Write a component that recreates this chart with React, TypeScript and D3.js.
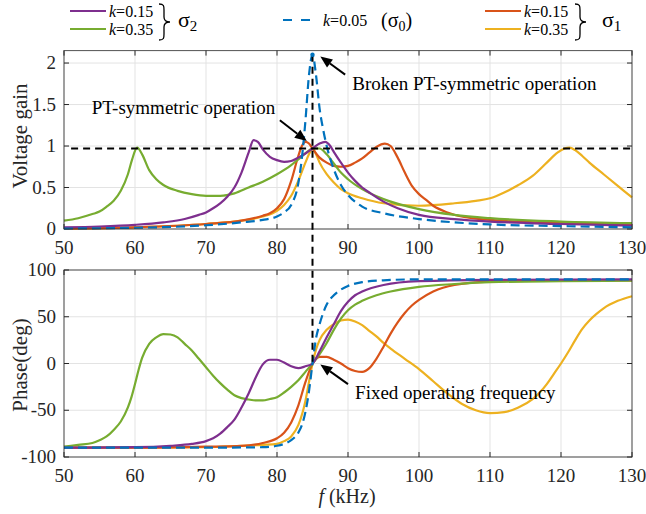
import * as d3 from 'd3';

// frequency axis and tick labels
const freqTicks = [50, 60, 70, 80, 90, 100, 110, 120, 130];
const gainTicks = [0, 0.5, 1, 1.5, 2];
const phaseTicks = [-100, -50, 0, 50, 100];

// voltage gain: [f (kHz), gain]
const gainS2k15: [number, number][] = [
  [50, 0.02], [55, 0.03], [60, 0.05], [64, 0.08], [67, 0.12], [69, 0.17], [70, 0.2], [71, 0.25],
  [72, 0.31], [73, 0.39], [74, 0.5], [75, 0.68], [76, 0.92], [76.7, 1.07], [77.3, 1.05], [78, 0.96],
  [79, 0.87], [80, 0.83], [81, 0.81], [82, 0.82], [83, 0.86], [84, 0.91], [85, 0.97], [86, 1.03],
  [86.8, 1.05], [87.5, 1.0], [88, 0.93], [89, 0.8], [90, 0.68], [91, 0.58], [92, 0.5], [93, 0.44],
  [95, 0.33], [97, 0.25], [100, 0.17], [105, 0.12], [110, 0.09], [120, 0.06], [130, 0.04],
];
const gainS2k35: [number, number][] = [
  [50, 0.1], [52, 0.13], [54, 0.18], [55, 0.21], [56, 0.27], [57, 0.34], [58, 0.46], [59, 0.66],
  [59.6, 0.84], [60.3, 0.98], [61, 0.9], [62, 0.71], [63, 0.6], [64, 0.53], [66, 0.46], [68, 0.42],
  [70, 0.4], [72, 0.4], [74, 0.43], [76, 0.5], [78, 0.57], [80, 0.66], [82, 0.77], [83, 0.84],
  [84, 0.91], [85, 0.97], [86, 0.97], [87, 0.9], [88, 0.79], [89, 0.68], [90, 0.6], [92, 0.48],
  [95, 0.36], [100, 0.24], [105, 0.17], [110, 0.13], [120, 0.09], [130, 0.07],
];
const gainS0k05: [number, number][] = [
  [50, 0.005], [60, 0.015], [65, 0.025], [70, 0.045], [75, 0.08], [78, 0.11], [80, 0.15], [81, 0.2],
  [82, 0.29], [83, 0.55], [83.5, 0.85], [84, 1.3], [84.5, 1.85], [85, 2.1], [85.5, 1.85], [86, 1.45],
  [86.5, 1.2], [87, 1.0], [88, 0.72], [89, 0.53], [90, 0.41], [92, 0.27], [95, 0.19], [100, 0.12],
  [105, 0.08], [110, 0.055], [120, 0.035], [130, 0.02],
];
const gainS1k15: [number, number][] = [
  [50, 0.005], [60, 0.02], [70, 0.06], [75, 0.1], [78, 0.16], [79, 0.19], [80, 0.25], [81, 0.36],
  [82, 0.58], [83, 0.88], [83.5, 1.0], [84, 1.05], [84.5, 1.03], [85, 0.97], [86, 0.86], [87, 0.8],
  [88, 0.76], [89, 0.75], [90, 0.76], [91, 0.8], [92, 0.85], [93, 0.92], [94, 0.99], [95.2, 1.03],
  [96, 1.0], [97, 0.86], [98, 0.68], [99, 0.52], [100, 0.42], [101, 0.35], [102, 0.28], [104, 0.2],
  [106, 0.15], [110, 0.11], [120, 0.07], [130, 0.05],
];
const gainS1k35: [number, number][] = [
  [50, 0.005], [60, 0.02], [70, 0.06], [75, 0.1], [78, 0.15], [80, 0.22], [81, 0.29], [82, 0.4],
  [83, 0.58], [84, 0.8], [84.5, 0.9], [85, 0.97], [85.5, 0.9], [86, 0.8], [87, 0.66], [88, 0.56],
  [89, 0.48], [90, 0.43], [92, 0.37], [95, 0.31], [100, 0.28], [105, 0.31], [108, 0.34], [110, 0.37],
  [112, 0.44], [114, 0.53], [116, 0.64], [118, 0.8], [119.5, 0.92], [120.5, 0.97], [121.2, 0.98],
  [122, 0.95], [123, 0.88], [124, 0.8], [126, 0.66], [128, 0.52], [130, 0.38],
];

// phase (deg): [f (kHz), phase]
const phaseS2k15: [number, number][] = [
  [50, -90], [60, -89.5], [65, -88], [68, -86], [70, -83], [71, -80], [72, -75], [73, -68],
  [74, -60], [75, -47], [76, -32], [77, -15], [78, -1], [79, 4], [80, 4], [81, 1], [82, -3],
  [83, -5], [84, -3], [85, 0], [86, 13], [87, 28], [88, 42], [89, 56], [90, 66], [91, 73],
  [92, 77], [95, 84], [100, 88], [110, 89.5], [130, 90],
];
const phaseS2k35: [number, number][] = [
  [50, -89], [52, -87], [54, -85], [55, -82], [56, -78], [57, -71], [58, -62], [59, -47],
  [59.5, -36], [60, -22], [60.5, -7], [61, 6], [62, 21], [63, 28], [64, 31.5], [65, 31], [66, 28],
  [67, 21], [68, 14], [69, 5], [70, -4], [71, -13], [72, -21], [73, -28], [74, -34], [75, -37],
  [76, -38.5], [77, -39.5], [78, -39.5], [79, -38], [80, -36], [81, -31], [82, -25], [83, -18],
  [84, -9], [85, 0], [86, 10], [87, 22], [88, 36], [89, 48], [90, 57], [91, 63], [92, 67],
  [94, 73], [96, 77], [100, 82], [105, 85], [110, 87], [120, 88], [130, 88.5],
];
const phaseS0k05: [number, number][] = [
  [50, -90], [70, -90], [78, -89.5], [80, -88], [81, -86], [82, -82], [83, -74], [83.5, -66],
  [84, -52], [84.5, -30], [85, 0], [85.5, 27], [86, 42], [86.5, 54], [87, 63], [88, 73], [89, 79],
  [90, 83], [92, 87], [95, 89], [100, 90], [130, 90],
];
const phaseS1k15: [number, number][] = [
  [50, -90], [60, -90], [70, -89], [75, -88], [78, -85], [80, -80], [81, -74], [82, -63],
  [83, -45], [84, -20], [85, 0], [85.5, 5], [86, 7], [87, 7], [88, 4], [89, 0], [90, -5],
  [91, -8], [92, -9], [93, -5], [94, 5], [95, 18], [96, 32], [97, 44], [98, 54], [99, 62],
  [100, 68], [102, 77], [105, 84], [110, 87.5], [120, 89], [130, 89],
];
const phaseS1k35: [number, number][] = [
  [50, -90], [60, -90], [70, -89.5], [75, -88], [78, -87], [80, -86], [81, -83], [82, -78],
  [83, -66], [84, -40], [84.5, -20], [85, 0], [85.5, 15], [86, 25], [87, 36], [88, 42], [89, 46],
  [90, 47], [91, 45], [92, 41], [93, 35], [94, 29], [95, 22], [96, 16], [98, 5], [100, -6],
  [102, -19], [104, -32], [106, -43], [108, -50], [110, -53], [112, -52], [114, -47], [116, -38],
  [117, -31], [118, -22], [119, -11], [120, 0], [121, 12], [122, 25], [123, 37], [124, 46], [125, 53],
  [126, 59], [128, 67], [130, 72],
];

const series = [
  { gain: gainS1k35, phase: phaseS1k35, color: '#EDB120', dashed: false },
  { gain: gainS1k15, phase: phaseS1k15, color: '#D95319', dashed: false },
  { gain: gainS2k35, phase: phaseS2k35, color: '#77AC30', dashed: false },
  { gain: gainS2k15, phase: phaseS2k15, color: '#7E2F8E', dashed: false },
  { gain: gainS0k05, phase: phaseS0k05, color: '#0072BD', dashed: true },
];

const FONT = 'Liberation Serif, DejaVu Serif, serif';
const AXIS = '#262626';
const GRID = '#e3e3e3';

const left = 64, right = 632;
const topBox = { y0: 50.6, y1: 229 };
const botBox = { y0: 270, y1: 457 };

const x = d3.scaleLinear().domain([50, 130]).range([left, right]);
const yGain = d3.scaleLinear().domain([0, 2.15]).range([topBox.y1, topBox.y0]);
const yPhase = d3.scaleLinear().domain([-100, 100]).range([botBox.y1, botBox.y0]);

function Arrow({ x1, y1, x2, y2 }: { x1: number; y1: number; x2: number; y2: number }) {
  const a = Math.atan2(y2 - y1, x2 - x1);
  const L = 12, Wd = 5;
  const bx = x2 - L * Math.cos(a), by = y2 - L * Math.sin(a);
  const px = -Math.sin(a) * Wd, py = Math.cos(a) * Wd;
  return (
    <g>
      <line x1={x1} y1={y1} x2={bx} y2={by} stroke="#000" strokeWidth={2} />
      <polygon points={`${x2},${y2} ${bx + px},${by + py} ${bx - px},${by - py}`} fill="#000" />
    </g>
  );
}

function Brace({ x0, y0, y1 }: { x0: number; y0: number; y1: number }) {
  const m = (y0 + y1) / 2;
  const w = 5;
  const d = `M${x0},${y0} C${x0 + w},${y0} ${x0 + w},${y0 + 2} ${x0 + w},${y0 + 6} L${x0 + w},${m - 5}
    C${x0 + w},${m - 1} ${x0 + w + 2},${m} ${x0 + w + 6},${m}
    C${x0 + w + 2},${m} ${x0 + w},${m + 1} ${x0 + w},${m + 5} L${x0 + w},${y1 - 6}
    C${x0 + w},${y1 - 2} ${x0 + w},${y1} ${x0},${y1}`;
  return <path d={d} fill="none" stroke="#000" strokeWidth={1.3} />;
}

function Panel({ y, ticks, box }: { y: d3.ScaleLinear<number, number>; ticks: number[]; box: { y0: number; y1: number } }) {
  return (
    <g>
      <rect x={left} y={box.y0} width={right - left} height={box.y1 - box.y0} fill="#fff" />
      {freqTicks.map(t => (
        <line key={'gx' + t} x1={x(t)} x2={x(t)} y1={box.y0} y2={box.y1} stroke={GRID} strokeWidth={1} />
      ))}
      {ticks.map(t => (
        <line key={'gy' + t} x1={left} x2={right} y1={y(t)} y2={y(t)} stroke={GRID} strokeWidth={1} />
      ))}
      {freqTicks.map(t => (
        <g key={'tx' + t}>
          <line x1={x(t)} x2={x(t)} y1={box.y1} y2={box.y1 - 5} stroke={AXIS} />
          <line x1={x(t)} x2={x(t)} y1={box.y0} y2={box.y0 + 5} stroke={AXIS} />
        </g>
      ))}
      {ticks.map(t => (
        <g key={'ty' + t}>
          <line x1={left} x2={left + 5} y1={y(t)} y2={y(t)} stroke={AXIS} />
          <line x1={right} x2={right - 5} y1={y(t)} y2={y(t)} stroke={AXIS} />
          <text x={left - 8} y={y(t) + 6} textAnchor="end" fontSize={19} fill={AXIS}>{String(t)}</text>
        </g>
      ))}
      {freqTicks.map(t => (
        <text key={'lx' + t} x={x(t)} y={box.y1 + 25} textAnchor="middle" fontSize={19} fill={AXIS}>{t}</text>
      ))}
    </g>
  );
}

export default function App() {
  const lineGain = d3.line<[number, number]>().x(d => x(d[0])).y(d => yGain(d[1])).curve(d3.curveMonotoneX);
  const linePhase = d3.line<[number, number]>().x(d => x(d[0])).y(d => yPhase(d[1])).curve(d3.curveMonotoneX);
  const fOp = 85;
  const gainRef = 0.97;

  return (
    <svg width={646} height={514} style={{ position: 'absolute', left: 0, top: 0, background: '#fff', fontFamily: FONT }}>
      <Panel y={yGain} ticks={gainTicks} box={topBox} />
      <Panel y={yPhase} ticks={phaseTicks} box={botBox} />

      <g>
        {series.map((s, i) => (
          <path key={'g' + i} d={lineGain(s.gain) || ''} fill="none" stroke={s.color} strokeWidth={2.2}
            strokeDasharray={s.dashed ? '9,5' : undefined} />
        ))}
        {series.map((s, i) => (
          <path key={'p' + i} d={linePhase(s.phase) || ''} fill="none" stroke={s.color} strokeWidth={2.2}
            strokeDasharray={s.dashed ? '9,5' : undefined} />
        ))}
      </g>

      {/* axes boxes */}
      <rect x={left} y={topBox.y0} width={right - left} height={topBox.y1 - topBox.y0} fill="none" stroke={AXIS} strokeWidth={1} opacity={0.8} />
      <rect x={left} y={botBox.y0} width={right - left} height={botBox.y1 - botBox.y0} fill="none" stroke={AXIS} strokeWidth={1} opacity={0.8} />

      {/* reference lines */}
      <line x1={x(51)} x2={x(130)} y1={yGain(gainRef)} y2={yGain(gainRef)} stroke="#000" strokeWidth={2} strokeDasharray="7,5" />
      <line x1={x(fOp)} x2={x(fOp)} y1={yGain(2.1)} y2={yPhase(0)} stroke="#000" strokeWidth={2} strokeDasharray="7,5" />
      <circle cx={x(fOp)} cy={yGain(2.1)} r={2.2} fill="#0072BD" />

      {/* annotations */}
      <Arrow x1={x(80.4)} y1={yGain(1.31)} x2={x(84.2)} y2={yGain(1.06)} />
      <text x={x(53.9)} y={yGain(1.39)} fontSize={19}>PT-symmetric operation</text>
      <Arrow x1={x(89.6)} y1={yGain(1.86)} x2={x(86.1)} y2={yGain(2.08)} />
      <text x={x(90.6)} y={yGain(1.67)} fontSize={19}>Broken PT-symmetric operation</text>
      <Arrow x1={x(90)} y1={yPhase(-22)} x2={x(86.1)} y2={yPhase(-1)} />
      <text x={x(91)} y={yPhase(-38)} fontSize={19}>Fixed operating frequency</text>

      {/* axis labels */}
      <text transform="translate(27,136) rotate(-90)" textAnchor="middle" fontSize={21} fill={AXIS}>Voltage gain</text>
      <text transform="translate(27,365) rotate(-90)" textAnchor="middle" fontSize={21} fill={AXIS}>Phase(deg)</text>
      <text x={347} y={503} textAnchor="middle" fontSize={20} fill={AXIS}>
        <tspan fontStyle="italic">f</tspan> (kHz)
      </text>

      {/* legend */}
      <g fontSize={16}>
        <line x1={70} x2={106} y1={11} y2={11} stroke="#7E2F8E" strokeWidth={2.2} />
        <text x={109} y={17}><tspan fontStyle="italic">k</tspan>=0.15</text>
        <line x1={70} x2={106} y1={29} y2={29} stroke="#77AC30" strokeWidth={2.2} />
        <text x={109} y={35}><tspan fontStyle="italic">k</tspan>=0.35</text>
        <Brace x0={159} y0={4} y1={40} />
        <text x={178} y={27} fontSize={22}>σ<tspan fontSize={15} dy={4}>2</tspan></text>

        <line x1={283} x2={310} y1={20} y2={20} stroke="#0072BD" strokeWidth={2.2} strokeDasharray="9,9" />
        <text x={323} y={26}><tspan fontStyle="italic">k</tspan>=0.05</text>
        <text x={381} y={27} fontSize={20}>(σ<tspan fontSize={14} dy={4}>0</tspan><tspan dy={-4}>)</tspan></text>

        <line x1={485} x2={521} y1={11} y2={11} stroke="#D95319" strokeWidth={2.2} />
        <text x={524} y={17}><tspan fontStyle="italic">k</tspan>=0.15</text>
        <line x1={485} x2={521} y1={29} y2={29} stroke="#EDB120" strokeWidth={2.2} />
        <text x={524} y={35}><tspan fontStyle="italic">k</tspan>=0.35</text>
        <Brace x0={575} y0={4} y1={40} />
        <text x={602} y={27} fontSize={22}>σ<tspan fontSize={15} dy={4}>1</tspan></text>
      </g>
    </svg>
  );
}
